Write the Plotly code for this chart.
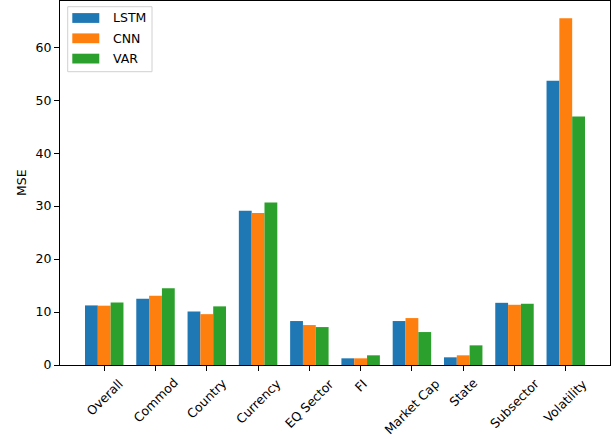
import plotly.graph_objects as go

# MSE per asset group for each model
categories = ["Overall", "Commod", "Country", "Currency", "EQ Sector",
              "FI", "Market Cap", "State", "Subsector", "Volatility"]
lstm = [11.25, 12.5, 10.1, 29.1, 8.3, 1.26, 8.3, 1.45, 11.74, 53.66]
cnn = [11.2, 13.06, 9.6, 28.7, 7.54, 1.26, 8.86, 1.83, 11.37, 65.45]
var = [11.8, 14.5, 11.07, 30.7, 7.16, 1.83, 6.22, 3.71, 11.56, 46.9]
series_names = ["LSTM", "CNN", "VAR"]
y_ticks = [0, 10, 20, 30, 40, 50, 60]

colors = ["#1f77b4", "#ff7f0e", "#2ca02c"]
FONT = "DejaVu Sans"
FS = 12.5

W, H = 614, 439
L, R, T, B = 60, 4, 1, 74
PW, PH = W - L - R, H - T - B


def px_x(x):
    return (x - L) / PW


def px_y(y):
    return (H - B - y) / PH


fig = go.Figure()
for name, vals, c in zip(series_names, [lstm, cnn, var], colors):
    fig.add_trace(go.Bar(x=categories, y=vals, name=name,
                         marker=dict(color=c, line=dict(width=0)),
                         showlegend=False))

ymax = max(max(lstm), max(cnn), max(var)) * 1.05

fig.update_layout(
    width=W, height=H,
    margin=dict(l=L, r=R, t=T, b=B),
    paper_bgcolor="white", plot_bgcolor="white",
    barmode="group", bargap=0.25, bargroupgap=0,
    font=dict(family=FONT, size=FS, color="#000000"),
)
fig.update_xaxes(
    type="category", range=[-0.8625, len(categories) - 1 + 0.8625],
    showline=True, linecolor="#000000", linewidth=1, mirror=True,
    ticks="outside", ticklen=5, tickwidth=1, tickcolor="#000000",
    showticklabels=False, showgrid=False, zeroline=False,
)
fig.update_yaxes(
    range=[0, ymax], tickvals=y_ticks,
    showline=True, linecolor="#000000", linewidth=1, mirror=True,
    ticks="outside", ticklen=5, tickwidth=1, tickcolor="#000000",
    showgrid=False, zeroline=False,
    tickfont=dict(family=FONT, size=FS, color="#000000"),
)

# rotated category labels, centred under each tick
for cat in categories:
    fig.add_annotation(x=cat, xref="x", y=0, yref="paper",
                       text=cat, textangle=-45, showarrow=False,
                       xanchor="center", yanchor="top", yshift=-8,
                       font=dict(family=FONT, size=FS, color="#000000"))

# y-axis title
fig.add_annotation(x=px_x(21), xref="paper", y=0.5, yref="paper",
                   text="MSE", textangle=-90, showarrow=False,
                   xanchor="center", yanchor="middle",
                   font=dict(family=FONT, size=FS, color="#000000"))

# legend box
fig.add_shape(type="rect", xref="paper", yref="paper",
              x0=px_x(67.7), x1=px_x(152), y0=px_y(71.7), y1=px_y(6.7),
              line=dict(color="#d0d0d0", width=1), fillcolor="rgba(255,255,255,0.8)")
for i, (name, c) in enumerate(zip(series_names, colors)):
    cy = 18 + i * 20.3
    fig.add_shape(type="rect", xref="paper", yref="paper",
                  x0=px_x(72.3), x1=px_x(99.3), y0=px_y(cy + 4.9), y1=px_y(cy - 4.9),
                  line=dict(width=0), fillcolor=c)
    fig.add_annotation(x=px_x(110.5), xref="paper", y=px_y(cy), yref="paper",
                       text=name, showarrow=False, xanchor="left", yanchor="middle",
                       font=dict(family=FONT, size=FS, color="#000000"))

fig.write_html("out.html")
